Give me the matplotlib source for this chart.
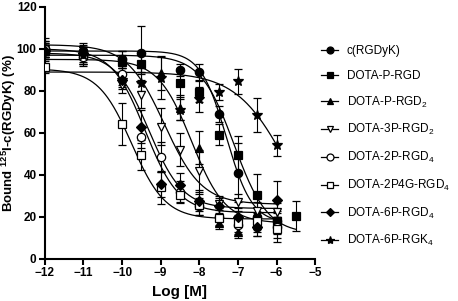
import numpy as np
import matplotlib
matplotlib.use("Agg")
import matplotlib.pyplot as plt
from matplotlib.lines import Line2D

plt.rcParams['font.family'] = ['Liberation Sans', 'DejaVu Sans']
plt.rcParams['mathtext.fontset'] = 'custom'
plt.rcParams['mathtext.rm'] = 'Liberation Sans'
plt.rcParams['mathtext.it'] = 'Liberation Sans:italic'
plt.rcParams['mathtext.bf'] = 'Liberation Sans:bold'

# ---- data (log molar concentration, % bound, SD) ----
labels = ["c(RGDyK)", "DOTA-P-RGD", "DOTA-P-RGD$_2$", "DOTA-3P-RGD$_2$",
          "DOTA-2P-RGD$_4$", "DOTA-2P4G-RGD$_4$", "DOTA-6P-RGD$_4$", "DOTA-6P-RGK$_4$"]

x_rgdyk = [-12, -11, -10, -9.5, -8.5, -8, -7.5, -7, -6.5, -6]
y_rgdyk = [100, 99, 95, 98, 90, 89, 69, 41, 20, 18]
e_rgdyk = [5, 4, 4, 13, 3, 4, 4, 14, 4, 5]

x_prgd = [-12, -11, -10, -9.5, -8.5, -8, -7.5, -7, -6.5, -6, -5.5]
y_prgd = [99, 97, 94, 93, 84, 79.5, 59, 49.5, 30.5, 18, 20.5]
e_prgd = [3, 4, 3, 4, 7, 5, 5, 9, 10, 4, 7]

x_prgd2 = [-12, -11, -10, -9.5, -9, -8.5, -8, -7.5, -7, -6.5, -6]
y_prgd2 = [99, 98, 95, 93, 88.6, 72, 53, 17, 13, 17, 16]
e_prgd2 = [4, 4, 4, 4, 8, 6, 8, 3, 3, 4, 4]

x_3prgd2 = [-12, -11, -10, -9.5, -9, -8.5, -8, -7.5, -7, -6.5, -6]
y_3prgd2 = [100, 97, 83, 78, 63, 52, 42, 26, 27, 23, 22.5]
e_3prgd2 = [4, 4, 4, 6, 9, 8, 10, 4, 4, 4, 4]

x_2prgd4 = [-12, -11, -10, -9.5, -9, -8.5, -8, -7.5, -7, -6.5, -6]
y_2prgd4 = [100, 96, 88, 58, 48.6, 32, 25, 20, 16, 15, 15]
e_2prgd4 = [4, 4, 5, 5, 7, 5, 4, 4, 4, 4, 5]

x_2p4g = [-12, -10, -9.5, -9, -8.5, -8, -7.5, -7, -6.5, -6]
y_2p4g = [91.4, 64, 49.5, 34, 30.5, 25.7, 19.5, 17, 18, 14]
e_2p4g = [3, 10, 7, 8, 4, 5, 4, 4, 4, 6]

x_6prgd4 = [-12, -11, -10, -9.5, -9, -8.5, -8, -7.5, -7, -6.5, -6]
y_6prgd4 = [99, 98, 85, 63, 35.5, 35, 27.6, 25, 20, 15, 28]
e_6prgd4 = [3, 3, 4, 8, 6, 6, 5, 4, 4, 4, 9]

x_6prgk4 = [-12, -11, -10, -9.5, -9, -8.5, -8, -7.5, -7, -6.5, -6]
y_6prgk4 = [99, 97, 85, 84, 86, 71, 76, 79.5, 84.5, 68.5, 54]
e_6prgk4 = [4, 4, 3, 4, 10, 5, 6, 4, 6, 8, 5]

# fitted one-site competition curves: top, bottom, logIC50, hill, x range end
fit_top = [99, 97, 95, 102, 100, 90.5, 98, 89]
fit_bottom = [17, 12, 17, 26, 22, 19, 24, 0]
fit_logic50 = [-7.3, -7.1, -8.2, -8.9, -9.4, -9.75, -9.3, -5.7]
fit_hill = [1.3, 1.0, 1.0, 0.9, 1.0, 1.0, 1.0, 0.65]
fit_xend = [-6, -5.5, -6, -6, -6, -6, -6, -6]

series_x = [x_rgdyk, x_prgd, x_prgd2, x_3prgd2, x_2prgd4, x_2p4g, x_6prgd4, x_6prgk4]
series_y = [y_rgdyk, y_prgd, y_prgd2, y_3prgd2, y_2prgd4, y_2p4g, y_6prgd4, y_6prgk4]
series_e = [e_rgdyk, e_prgd, e_prgd2, e_3prgd2, e_2prgd4, e_2p4g, e_6prgd4, e_6prgk4]

markers = ['o', 's', '^', 'v', 'o', 's', 'D', '*']
filled = [True, True, True, False, False, False, True, True]
msizes = [6, 6, 6, 6, 6, 6, 5, 7]

fig = plt.figure(figsize=(4.58, 3.01), dpi=100)
ax = fig.add_axes([0.098, 0.140, 0.590, 0.837])

handles = []
for i in range(8):
    fc = 'black' if filled[i] else 'white'
    ax.errorbar(series_x[i], series_y[i], yerr=series_e[i], fmt=markers[i],
                color='black', mfc=fc, mec='black', ms=msizes[i], mew=0.9,
                elinewidth=0.8, capsize=3, capthick=0.8, zorder=3)
    xs = np.linspace(-12, fit_xend[i], 300)
    ys = fit_bottom[i] + (fit_top[i] - fit_bottom[i]) / (1 + 10 ** (fit_hill[i] * (xs - fit_logic50[i])))
    ax.plot(xs, ys, color='black', lw=0.9, zorder=2)
    handles.append(Line2D([0], [0], color='black', lw=0.9, marker=markers[i],
                          mfc=fc, mec='black', ms=msizes[i] - 1, mew=0.9))

ax.set_xlim(-12, -5)
ax.set_ylim(0, 120)
ax.set_xticks(range(-12, -4))
ax.set_yticks(range(0, 121, 20))
for s in ['top', 'right']:
    ax.spines[s].set_visible(False)
for s in ['left', 'bottom']:
    ax.spines[s].set_linewidth(1.5)
ax.tick_params(direction='out', length=4, width=1.5, labelsize=8.5, pad=2)
for lab in ax.get_xticklabels() + ax.get_yticklabels():
    lab.set_fontweight('bold')

ax.set_xlabel("Log [M]", fontsize=11, fontweight='bold', labelpad=4)
ax.set_ylabel(r"Bound $^{\mathbf{125}}$I-c(RGDyK) (%)", fontsize=9.5, fontweight='bold')
ax.yaxis.set_label_coords(-0.10, 0.5)

fig.legend(handles, labels, loc='upper left', bbox_to_anchor=(0.69, 0.865),
           frameon=False, fontsize=8.5, handlelength=1.5, handletextpad=0.7,
           labelspacing=1.07, numpoints=1, borderaxespad=0)

fig.savefig("out.png", dpi=100)
